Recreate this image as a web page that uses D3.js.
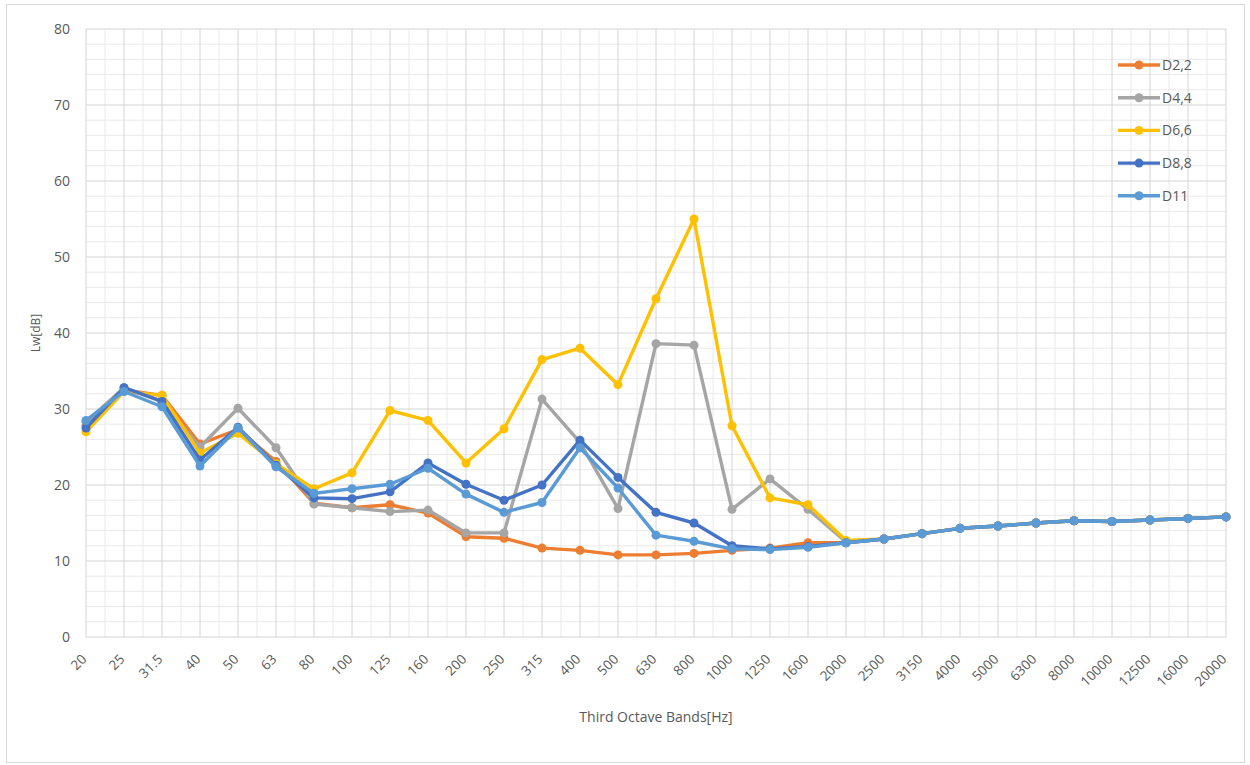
<!DOCTYPE html>
<html>
<head>
<meta charset="utf-8">
<script src="https://cdn.jsdelivr.net/npm/d3@7"></script>
<style>
  html, body { margin: 0; padding: 0; background: #fff; }
  svg text { font-family: "Open Sans", "Noto Sans", sans-serif; fill: #595959; }
</style>
</head>
<body>
<svg id="chart" width="1250" height="765"></svg>
<script>
// Third-octave band centre frequencies
const bands = ["20","25","31.5","40","50","63","80","100","125","160","200","250","315","400","500","630","800","1000","1250","1600","2000","2500","3150","4000","5000","6300","8000","10000","12500","16000","20000"];

const yTicks = [0, 10, 20, 30, 40, 50, 60, 70, 80];

const seriesNames = ["D2,2", "D4,4", "D6,6", "D8,8", "D11"];
const seriesColors = ["#ED7D31", "#A5A5A5", "#FFC000", "#4472C4", "#5B9BD5"];

// Sound power level Lw [dB] per band
const d22 = [27.8, 32.5, 31.8, 25.4, 27.3, 23.1, 17.6, 17.0, 17.4, 16.3, 13.2, 13.0, 11.7, 11.4, 10.8, 10.8, 11.0, 11.4, 11.7, 12.4, 12.4, 12.9, 13.6, 14.3, 14.6, 15.0, 15.3, 15.2, 15.4, 15.6, 15.8];
const d44 = [28.3, 32.8, 31.0, 25.0, 30.1, 24.9, 17.5, 17.0, 16.5, 16.7, 13.7, 13.7, 31.3, 25.6, 16.9, 38.6, 38.4, 16.8, 20.8, 16.8, 12.5, 12.9, 13.6, 14.3, 14.6, 15.0, 15.3, 15.2, 15.4, 15.6, 15.8];
const d66 = [27.0, 32.3, 31.8, 24.2, 26.8, 22.8, 19.5, 21.6, 29.8, 28.5, 22.9, 27.4, 36.5, 38.0, 33.2, 44.5, 55.0, 27.8, 18.3, 17.4, 12.7, 12.9, 13.6, 14.3, 14.6, 15.0, 15.3, 15.2, 15.4, 15.6, 15.8];
const d88 = [27.5, 32.8, 31.0, 23.3, 27.6, 22.6, 18.3, 18.2, 19.1, 22.9, 20.1, 18.0, 20.0, 25.9, 21.0, 16.4, 15.0, 12.0, 11.6, 11.9, 12.4, 12.9, 13.6, 14.3, 14.6, 15.0, 15.3, 15.2, 15.4, 15.6, 15.8];
const d11 = [28.5, 32.3, 30.3, 22.5, 27.5, 22.4, 18.9, 19.5, 20.1, 22.2, 18.8, 16.4, 17.7, 24.9, 19.6, 13.4, 12.6, 11.6, 11.5, 11.8, 12.4, 12.9, 13.6, 14.3, 14.6, 15.0, 15.3, 15.2, 15.4, 15.6, 15.8];

const seriesValues = [d22, d44, d66, d88, d11];

const svg = d3.select("#chart");
const plot = { left: 86, right: 1226, top: 29, bottom: 637 };

// chart frame
svg.append("rect")
  .attr("x", 6.5).attr("y", 4.5)
  .attr("width", 1238).attr("height", 758)
  .attr("fill", "#fff").attr("stroke", "#d9d9d9").attr("stroke-width", 1);

const x = d3.scalePoint().domain(bands).range([plot.left, plot.right]).padding(0);
const y = d3.scaleLinear().domain([0, 80]).range([plot.bottom, plot.top]);

const grid = svg.append("g");
const step = x.step();

// minor vertical gridlines halfway between bands
bands.slice(0, -1).forEach(b => {
  const xm = x(b) + step / 2;
  grid.append("line")
    .attr("x1", xm).attr("x2", xm)
    .attr("y1", plot.top).attr("y2", plot.bottom)
    .attr("stroke", "#eaeaea").attr("stroke-width", 1);
});
// minor horizontal gridlines every 2 dB
d3.range(0, 81, 2).filter(v => v % 10 !== 0).forEach(v => {
  grid.append("line")
    .attr("x1", plot.left).attr("x2", plot.right)
    .attr("y1", y(v)).attr("y2", y(v))
    .attr("stroke", "#eaeaea").attr("stroke-width", 1);
});
// major vertical gridlines at each band
bands.forEach(b => {
  grid.append("line")
    .attr("x1", x(b)).attr("x2", x(b))
    .attr("y1", plot.top).attr("y2", plot.bottom)
    .attr("stroke", "#d4d4d4").attr("stroke-width", 1);
});
// major horizontal gridlines
yTicks.forEach(v => {
  grid.append("line")
    .attr("x1", plot.left).attr("x2", plot.right)
    .attr("y1", y(v)).attr("y2", y(v))
    .attr("stroke", "#d4d4d4").attr("stroke-width", 1);
});

// y axis labels
const yAxis = d3.axisLeft(y).tickValues(yTicks).tickSize(0).tickPadding(16);
svg.append("g")
  .attr("transform", `translate(${plot.left},0)`)
  .call(yAxis)
  .call(g => g.select(".domain").remove())
  .call(g => g.selectAll("text").style("font-size", "14px").style("fill", "#595959"));

// x axis labels, rotated
const xAxis = d3.axisBottom(x).tickSize(0).tickPadding(0);
svg.append("g")
  .attr("transform", `translate(0,${plot.bottom})`)
  .call(xAxis)
  .call(g => g.select(".domain").remove())
  .call(g => g.selectAll(".tick text")
    .style("font-size", "13.5px")
    .style("fill", "#595959")
    .attr("text-anchor", "end")
    .attr("dy", null)
    .attr("y", 0)
    .attr("transform", "translate(1,23) rotate(-45)"));

// axis titles
svg.append("text")
  .attr("x", (plot.left + plot.right) / 2).attr("y", 722)
  .attr("text-anchor", "middle")
  .style("font-size", "14px")
  .text("Third Octave Bands[Hz]");

svg.append("text")
  .attr("transform", `translate(40,${(plot.top + plot.bottom) / 2}) rotate(-90)`)
  .attr("text-anchor", "middle")
  .style("font-size", "12px")
  .text("Lw[dB]");

// series lines and markers
const line = d3.line().x((d, i) => x(bands[i])).y(d => y(d));

seriesValues.forEach((vals, si) => {
  const g = svg.append("g");
  g.append("path")
    .datum(vals)
    .attr("d", line)
    .attr("fill", "none")
    .attr("stroke", seriesColors[si])
    .attr("stroke-width", 3.4)
    .attr("stroke-linejoin", "round");
  g.selectAll("circle")
    .data(vals)
    .join("circle")
    .attr("cx", (d, i) => x(bands[i]))
    .attr("cy", d => y(d))
    .attr("r", 4.5)
    .attr("fill", seriesColors[si]);
});

// legend
const legend = svg.append("g");
seriesNames.forEach((name, i) => {
  const ly = 65 + i * 32.7;
  legend.append("line")
    .attr("x1", 1118).attr("x2", 1160)
    .attr("y1", ly).attr("y2", ly)
    .attr("stroke", seriesColors[i]).attr("stroke-width", 3.4);
  legend.append("circle")
    .attr("cx", 1139).attr("cy", ly).attr("r", 4.5)
    .attr("fill", seriesColors[i]);
  legend.append("text")
    .attr("x", 1162).attr("y", ly + 5)
    .style("font-size", "14px")
    .text(name);
});
</script>
</body>
</html>
